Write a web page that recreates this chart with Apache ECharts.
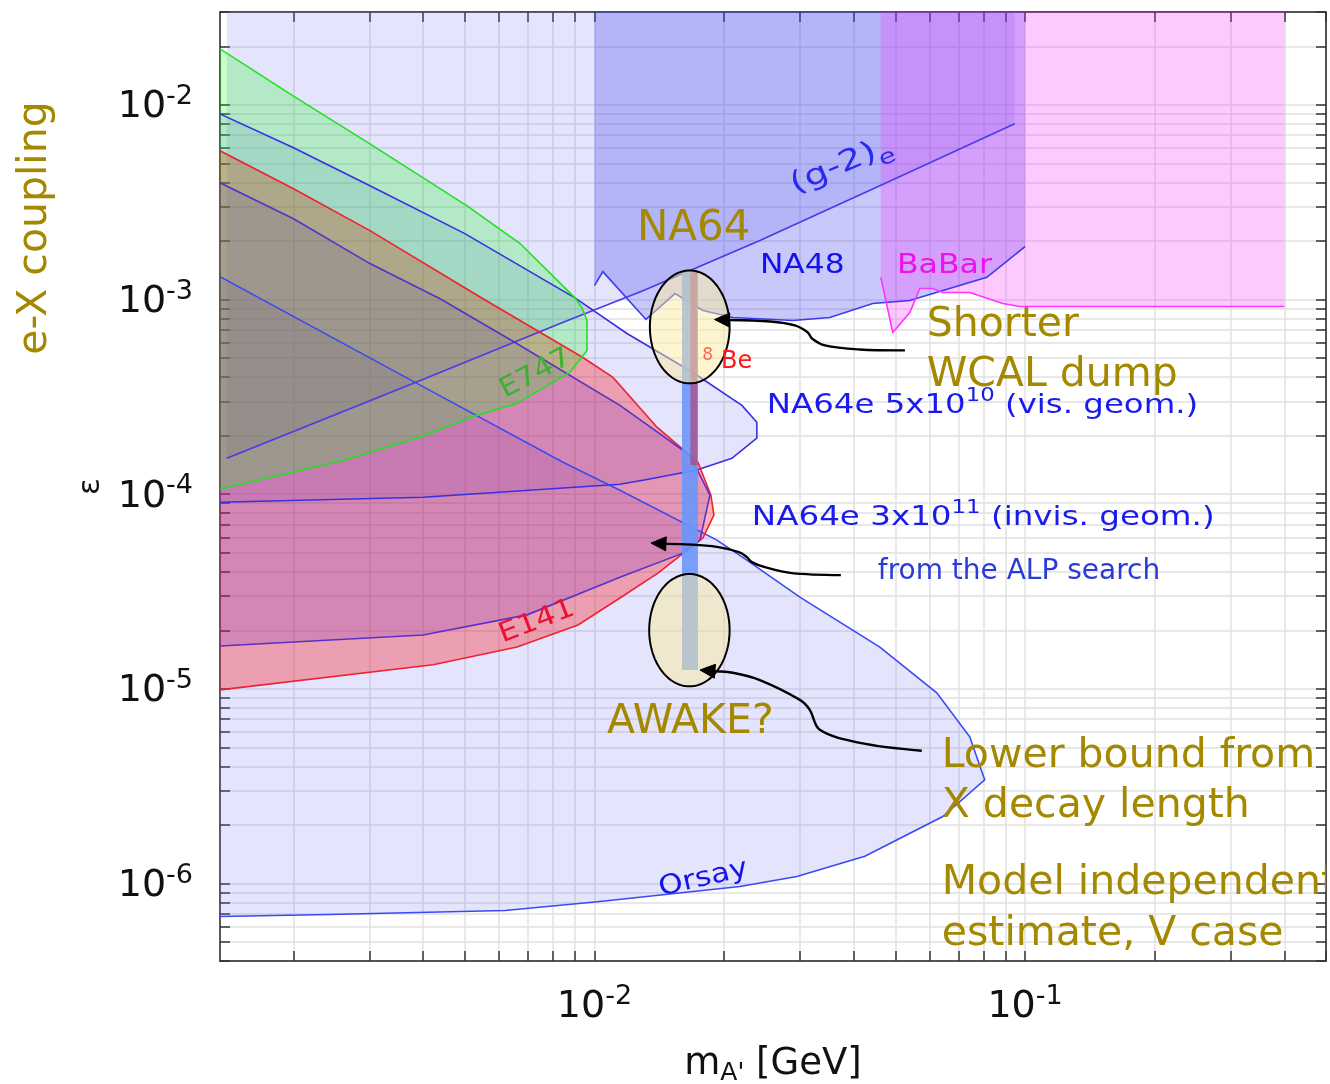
<!DOCTYPE html>
<html><head><meta charset="utf-8">
<script src="https://cdn.jsdelivr.net/npm/echarts@6/dist/echarts.min.js"></script>
<style>html,body{margin:0;padding:0;background:#fff}#c{width:1330px;height:1084px}</style>
</head><body><div id="c"></div>
<script>
// ---------- axis ranges and tick labels ----------
const massRange = [1.35e-3, 0.5];          // m_A' [GeV]
const couplingRange = [4e-7, 3e-2];        // epsilon
const xTickLabels = [1e-2, 1e-1];
const yTickLabels = [1e-6, 1e-5, 1e-4, 1e-3, 1e-2];

// ---------- exclusion regions [mass GeV, epsilon] ----------
const g2Region = [[1.40e-3,3.0e-2],[9.465e-2,3.0e-2],[9.465e-2,7.99e-3],[4.60e-2,3.84e-3],[2.422e-2,2.01e-3],[1.296e-2,1.11e-3],[8.32e-3,7.53e-4],[3.94e-3,3.84e-4],[1.40e-3,1.53e-4]];
const na64Vis = [[1.35e-3,8.99e-3],[2.0e-3,6.02e-3],[3.01e-3,3.84e-3],[5.0e-3,2.18e-3],[9.01e-3,1.02e-3],[1.19e-2,6.69e-4],[1.693e-2,4.22e-4],[2.2e-2,2.86e-4],[2.383e-2,2.34e-4],[2.383e-2,1.94e-4],[2.085e-2,1.53e-4],[1.729e-2,1.33e-4],[1.296e-2,1.18e-4],[1.146e-2,1.125e-4],[4.0e-3,9.65e-5],[1.35e-3,9.10e-5]];
const na64Invis = [[1.35e-3,1.31e-3],[3.87e-3,3.71e-4],[8.45e-3,1.46e-4],[1.146e-2,1.048e-4],[1.925e-2,5.81e-5],[2.259e-2,4.59e-5],[3.0e-2,2.96e-5],[4.60e-2,1.64e-5],[6.237e-2,9.54e-6],[7.44e-2,5.67e-6],[8.06e-2,3.41e-6]];
const orsay = [[6.442e-2,2.21e-6],[4.246e-2,1.38e-6],[2.952e-2,1.086e-6],[2.176e-2,9.65e-7],[1.03e-2,8.09e-7],[6.2e-3,7.27e-7],[2.43e-3,6.93e-7],[1.35e-3,6.77e-7]];
const na48 = [[1.0e-2,3.0e-2],[0.1,3.0e-2],[0.1,1.87e-3],[8.15e-2,1.30e-3],[5.40e-2,9.88e-4],[4.43e-2,9.54e-4],[3.52e-2,8.09e-4],[2.89e-2,7.80e-4],[2.096e-2,8.09e-4],[1.786e-2,8.78e-4],[1.538e-2,1.073e-3],[1.317e-2,7.90e-4],[1.046e-2,1.39e-3],[1.0e-2,1.18e-3]];
const babar = [[4.624e-2,3.0e-2],[0.4,3.0e-2],[0.4,9.21e-4],[9.72e-2,9.21e-4],[8.88e-2,9.54e-4],[7.44e-2,1.086e-3],[6.442e-2,1.086e-3],[6.107e-2,1.14e-3],[5.695e-2,1.14e-3],[5.40e-2,8.58e-4],[4.93e-2,6.77e-4],[4.624e-2,1.30e-3]];
const e141 = [[1.35e-3,5.81e-3],[2.0e-3,3.71e-3],[3.01e-3,2.26e-3],[5.51e-3,1.01e-3],[9.40e-3,5.04e-4],[1.104e-2,3.98e-4],[1.397e-2,2.21e-4],[1.739e-2,1.46e-4],[1.864e-2,9.88e-5],[1.894e-2,7.80e-5],[1.786e-2,5.95e-5],[1.404e-2,3.93e-5],[1.146e-2,2.93e-5],[9.16e-3,2.13e-5],[6.61e-3,1.64e-5],[4.22e-3,1.33e-5],[1.35e-3,9.88e-6]];
const alpSearch = [[1.35e-3,3.98e-3],[2.0e-3,2.60e-3],[3.01e-3,1.53e-3],[4.38e-3,1.01e-3],[6.54e-3,6.02e-4],[1.146e-2,2.86e-4],[1.667e-2,1.585e-4],[1.854e-2,9.88e-5],[1.758e-2,5.81e-5],[1.605e-2,4.98e-5],[1.146e-2,3.75e-5],[6.97e-3,2.40e-5],[4.0e-3,1.89e-5],[1.35e-3,1.66e-5]];
const e747 = [[1.35e-3,1.94e-2],[2.0e-3,1.11e-2],[3.01e-3,6.31e-3],[5.06e-3,3.03e-3],[6.72e-3,1.94e-3],[9.01e-3,1.02e-3],[9.35e-3,9.10e-4],[9.61e-3,7.80e-4],[9.61e-3,5.48e-4],[8.77e-3,4.22e-4],[6.61e-3,2.93e-4],[5.14e-3,2.48e-4],[3.94e-3,1.96e-4],[2.61e-3,1.49e-4],[1.35e-3,1.06e-4]];

// ---------- 8Be band ----------
const be8BandMass = [1.597e-2, 1.739e-2];
const be8BandCoupling = [1.25e-5, 1.41e-3];
const be8CoreMass = [1.670e-2, 1.734e-2];
const be8CoreCoupling = [1.41e-4, 1.41e-3];

// ---------- ellipses (bounding boxes in data) ----------
const na64EllipseMass = [1.345e-2, 2.06e-2];
const na64EllipseCoupling = [3.71e-4, 1.41e-3];
const awakeEllipseMass = [1.34e-2, 2.06e-2];
const awakeEllipseCoupling = [1.03e-5, 3.89e-5];

// ---------- arrows ----------
const wcalArrow = [[5.26e-2,5.48e-4],[4.13e-2,5.54e-4],[3.43e-2,5.81e-4],[3.20e-2,6.31e-4],[3.13e-2,6.77e-4],[2.92e-2,7.36e-4],[2.56e-2,7.71e-4],[1.90e-2,7.90e-4]];
const alpArrow = [[3.735e-2,3.84e-5],[2.874e-2,3.93e-5],[2.488e-2,4.22e-5],[2.32e-2,4.48e-5],[2.259e-2,4.75e-5],[2.165e-2,5.04e-5],[1.874e-2,5.41e-5],[1.353e-2,5.61e-5]];
const awakeArrow = [[5.757e-2,4.81e-6],[4.134e-2,5.28e-6],[3.337e-2,6.16e-6],[3.163e-2,7.80e-6],[3.0e-2,8.78e-6],[2.422e-2,1.11e-5],[2.096e-2,1.21e-5],[1.758e-2,1.25e-5]];

// ---------- text annotations [text, mass, epsilon] ----------
const labels = [
  ['NA64', 1.255e-2, 2.31e-3],
  ['{b|(g-2)}{e|e}', 3.775e-2, 4.70e-3],
  ['NA48', 2.422e-2, 1.49e-3],
  ['BaBar', 5.04e-2, 1.49e-3],
  ['Shorter', 5.91e-2, 7.36e-4],
  ['WCAL dump', 5.91e-2, 4.08e-4],
  ['{i|8}{b|Be}', 1.78e-2, 4.87e-4],
  ['{b|NA64e 5x10}{s|10}{b| (vis. geom.)}', 2.514e-2, 2.93e-4],
  ['{b|NA64e 3x10}{s|11}{b| (invis. geom.)}', 2.32e-2, 7.80e-5],
  ['from the ALP search', 4.55e-2, 3.98e-5],
  ['AWAKE?', 1.069e-2, 6.77e-6],
  ['Lower bound from', 6.405e-2, 4.48e-6],
  ['X decay length', 6.405e-2, 2.48e-6],
  ['Model independent', 6.405e-2, 1.0e-6],
  ['estimate, V case', 6.405e-2, 5.48e-7],
  ['E747', 7.3e-3, 4.15e-4],
  ['E141', 7.35e-3, 2.21e-5],
  ['Orsay', 1.79e-2, 1.06e-6]
];

// ================= rendering =================
const L = v => Math.log10(v);
const FONT = 'DejaVu Sans';
const OLIVE = '#a38800';
const BLUE = '#1a1aee';

function tickValues(range, e0, e1) {
  const out = [];
  for (let e = e0; e <= e1; e++) for (let k = 1; k <= 9; k++) {
    const v = k * Math.pow(10, e);
    if (v >= range[0] * 0.9999 && v <= range[1] * 1.0001) out.push(L(v));
  }
  return out;
}
const xTicks = tickValues(massRange, -3, -1);
const yTicks = tickValues(couplingRange, -7, -2);

function R(sz, col, extra) {
  return { fontSize: sz, fontFamily: FONT, fill: col, ...extra };
}
function S(size, color, extra) {
  return Object.assign({ size, color, rot: 0, scaleX: 1, align: 'left' }, extra || {});
}
const labelStyles = [
  S(42, OLIVE),
  S(29, '#2a2af0', { rot: 23, scaleX: 1.3, align: 'center', rich: { b: R(29, '#2a2af0', { verticalAlign: 'bottom', padding: [0, 0, 7, 0] }), e: R(21, '#2a2af0', { verticalAlign: 'bottom' }) } }),
  S(27, '#1212ee', { scaleX: 1.16 }),
  S(27, '#ee11ee', { scaleX: 1.17 }),
  S(41, OLIVE), S(41, OLIVE),
  S(24, '#ff1a1a', { rich: { i: R(17, '#ff6a50', { verticalAlign: 'bottom', padding: [0, 8, 10, 0] }), b: R(24, '#ff1a1a', { verticalAlign: 'bottom' }) } }),
  S(27, BLUE, { scaleX: 1.2, rich: { b: R(27, BLUE, { verticalAlign: 'bottom' }), s: R(19, BLUE, { verticalAlign: 'bottom', padding: [0, 0, 14, 0] }) } }),
  S(27, BLUE, { scaleX: 1.205, rich: { b: R(27, BLUE, { verticalAlign: 'bottom' }), s: R(19, BLUE, { verticalAlign: 'bottom', padding: [0, 0, 14, 0] }) } }),
  S(28, '#2b3bd8'),
  S(41, OLIVE), S(41, OLIVE), S(41, OLIVE), S(41, OLIVE), S(41, OLIVE),
  S(27, '#3cb030', { rot: 28, scaleX: 1.12, align: 'center' }),
  S(27, '#ee1030', { rot: 21, scaleX: 1.15, align: 'center' }),
  S(27, '#1414ee', { rot: 13, scaleX: 1.15, align: 'center' })
];

const pc = (api, d) => api.coord([L(d[0]), L(d[1])]);

function fillSeries(name, pts, fill, z) {
  return {
    type: 'custom', name, coordinateSystem: 'cartesian2d', silent: true, clip: true, z,
    data: [[L(pts[0][0]), L(pts[0][1])]],
    renderItem: (params, api) => ({
      type: 'polygon',
      shape: { points: pts.map(d => pc(api, d)) },
      style: { fill, stroke: 'none' }
    })
  };
}
function strokeSeries(name, pts, stroke, from, z) {
  return {
    type: 'custom', name, coordinateSystem: 'cartesian2d', silent: true, clip: true, z,
    data: [[L(pts[0][0]), L(pts[0][1])]],
    renderItem: (params, api) => ({
      type: 'polyline',
      shape: { points: pts.slice(from).map(d => pc(api, d)) },
      style: { fill: 'none', stroke, lineWidth: 1.6 }
    })
  };
}
function rectSeries(name, mass, coup, fill, z) {
  return {
    type: 'custom', name, coordinateSystem: 'cartesian2d', silent: true, clip: true, z,
    data: [[L(mass[0]), L(coup[0])]],
    renderItem: (params, api) => {
      const a = api.coord([L(mass[0]), L(coup[1])]);
      const b = api.coord([L(mass[1]), L(coup[0])]);
      return { type: 'rect', shape: { x: a[0], y: a[1], width: b[0] - a[0], height: b[1] - a[1] }, style: { fill } };
    }
  };
}
function ellipseSeries(name, mass, coup, z) {
  return {
    type: 'custom', name, coordinateSystem: 'cartesian2d', silent: true, clip: true, z,
    data: [[L(mass[0]), L(coup[0])]],
    renderItem: (params, api) => {
      const a = api.coord([L(mass[0]), L(coup[1])]);
      const b = api.coord([L(mass[1]), L(coup[0])]);
      const cx = (a[0] + b[0]) / 2, cy = (a[1] + b[1]) / 2, rx = (b[0] - a[0]) / 2, ry = (b[1] - a[1]) / 2;
      const pts = [];
      for (let i = 0; i < 120; i++) { const t = i / 120 * 2 * Math.PI; pts.push([cx + rx * Math.cos(t), cy + ry * Math.sin(t)]); }
      return { type: 'polygon', shape: { points: pts }, style: { fill: 'rgba(250,235,160,0.5)', stroke: '#000', lineWidth: 2 } };
    }
  };
}
function arrowSeries(name, path, z) {
  return {
    type: 'custom', name, coordinateSystem: 'cartesian2d', silent: true, clip: true, z,
    data: [[L(path[0][0]), L(path[0][1])]],
    renderItem: (params, api) => {
      const p = path.map(d => pc(api, d));
      const tip = p[p.length - 1], prev = p[p.length - 2];
      const dx = tip[0] - prev[0], dy = tip[1] - prev[1];
      const len = Math.hypot(dx, dy), ux = dx / len, uy = dy / len;
      const hl = 15, hw = 7;
      const base = [tip[0] - ux * hl, tip[1] - uy * hl];
      const head = [tip, [base[0] - uy * hw, base[1] + ux * hw], [base[0] + uy * hw, base[1] - ux * hw]];
      const line = p.slice(0, -1).concat([base]);
      return { type: 'group', children: [
        { type: 'polyline', shape: { points: line, smooth: 0.35 }, style: { fill: 'none', stroke: '#000', lineWidth: 2.4 } },
        { type: 'polygon', shape: { points: head }, style: { fill: '#000', stroke: '#000', lineWidth: 1 } }
      ] };
    }
  };
}
function labelSeries(z) {
  return {
    type: 'custom', name: 'labels', coordinateSystem: 'cartesian2d', silent: true, clip: true, z,
    data: [[L(labels[0][1]), L(labels[0][2])]],
    renderItem: (params, api) => ({
      type: 'group',
      children: labels.map((lab, i) => {
        const st = labelStyles[i];
        const p = api.coord([L(lab[1]), L(lab[2])]);
        const style = { text: lab[0], fontSize: st.size, fontFamily: FONT, fill: st.color, align: st.align, verticalAlign: 'middle' };
        if (st.rich) style.rich = st.rich;
        return { type: 'text', x: p[0], y: p[1], rotation: st.rot * Math.PI / 180, scaleX: st.scaleX, scaleY: 1, style };
      })
    })
  };
}

const supFmt = v => '{b|10}{s|' + Math.round(v) + '}';
const tickRich = {
  b: { fontSize: 38, fontFamily: FONT, color: '#111', verticalAlign: 'bottom' },
  s: { fontSize: 27, fontFamily: FONT, color: '#111', verticalAlign: 'bottom', padding: [0, 0, 16, 0] }
};
const axisLineStyle = { show: true, onZero: false, lineStyle: { color: '#222', width: 1.5 } };
const tickStyle = ticks => ({ show: true, inside: true, length: 10, customValues: ticks, lineStyle: { color: '#333', width: 1.5 } });

const option = {
  animation: false,
  backgroundColor: '#ffffff',
  grid: { left: 220, right: 4, top: 12, bottom: 123, containLabel: false, outerBoundsMode: 'none' },
  xAxis: [
    { type: 'value', position: 'bottom', min: L(massRange[0]), max: L(massRange[1]),
      axisLine: axisLineStyle, axisTick: tickStyle(xTicks),
      splitLine: { show: true, lineStyle: { color: '#e1e1e1', width: 1.5 } },
      axisLabel: { show: true, customValues: xTickLabels.map(L), margin: 22, formatter: supFmt, rich: tickRich },
      name: "{m|m}{sub|A'}{m| [GeV]}", nameLocation: 'middle', nameGap: 82,
      nameTextStyle: { rich: {
        m: { fontSize: 37, fontFamily: FONT, color: '#111' },
        sub: { fontSize: 25, fontFamily: FONT, color: '#111', padding: [18, 0, 0, 0] } } } },
    { type: 'value', position: 'top', min: L(massRange[0]), max: L(massRange[1]),
      axisLine: axisLineStyle, axisTick: tickStyle(xTicks), splitLine: { show: false }, axisLabel: { show: false } }
  ],
  yAxis: [
    { type: 'value', position: 'left', min: L(couplingRange[0]), max: L(couplingRange[1]),
      axisLine: axisLineStyle, axisTick: tickStyle(yTicks),
      splitLine: { show: true, lineStyle: { color: '#e1e1e1', width: 1.5 } },
      axisLabel: { show: true, customValues: yTickLabels.map(L), margin: 27, formatter: supFmt, rich: tickRich },
      name: 'ε', nameLocation: 'middle', nameRotate: 90, nameGap: 110,
      nameTextStyle: { fontSize: 31, fontFamily: FONT, color: '#111' } },
    { type: 'value', position: 'right', min: L(couplingRange[0]), max: L(couplingRange[1]),
      axisLine: axisLineStyle, axisTick: tickStyle(yTicks), splitLine: { show: false }, axisLabel: { show: false } }
  ],
  graphic: [
    { type: 'text', x: 35, y: 228, rotation: Math.PI / 2,
      style: { text: 'e-X coupling', fontSize: 41, fontFamily: FONT, fill: OLIVE, align: 'center', verticalAlign: 'middle' } }
  ],
  series: [
    fillSeries('(g-2)e', g2Region, 'rgba(120,120,240,0.2)', 10),
    fillSeries('NA64e vis', na64Vis, 'rgba(120,120,240,0.2)', 11),
    fillSeries('NA64e invis + Orsay', na64Invis.concat(orsay), 'rgba(120,120,240,0.2)', 12),
    fillSeries('NA48', na48, 'rgba(43,43,240,0.26)', 13),
    fillSeries('BaBar', babar, 'rgba(250,40,250,0.25)', 14),
    fillSeries('E141', e141, 'rgba(255,0,0,0.3)', 15),
    fillSeries('ALP', alpSearch, 'rgba(120,40,200,0.2)', 16),
    fillSeries('E747', e747, 'rgba(0,255,0,0.21)', 17),
    strokeSeries('(g-2)e line', g2Region, '#4a3aea', 2, 30),
    strokeSeries('NA64e vis line', na64Vis, '#3a30e0', 0, 31),
    strokeSeries('NA64e invis line', na64Invis.concat(orsay), '#3a4af2', 0, 32),
    strokeSeries('NA48 line', na48, '#3a3af0', 2, 33),
    strokeSeries('BaBar line', babar, '#ff33ff', 2, 34),
    strokeSeries('E141 line', e141, '#ee2233', 0, 35),
    strokeSeries('ALP line', alpSearch, '#5a30c8', 0, 36),
    strokeSeries('E747 line', e747, '#22e022', 0, 37),
    rectSeries('8Be band', be8BandMass, be8BandCoupling, 'rgba(105,150,250,0.9)', 40),
    rectSeries('8Be core', be8CoreMass, be8CoreCoupling, 'rgba(190,50,90,0.55)', 41),
    ellipseSeries('NA64 ellipse', na64EllipseMass, na64EllipseCoupling, 42),
    ellipseSeries('AWAKE ellipse', awakeEllipseMass, awakeEllipseCoupling, 43),
    arrowSeries('WCAL arrow', wcalArrow, 44),
    arrowSeries('ALP arrow', alpArrow, 45),
    arrowSeries('AWAKE arrow', awakeArrow, 46),
    labelSeries(50)
  ]
};
const chart = echarts.init(document.getElementById('c'), null, { renderer: 'canvas' });
chart.setOption(option);
</script>
</body></html>
